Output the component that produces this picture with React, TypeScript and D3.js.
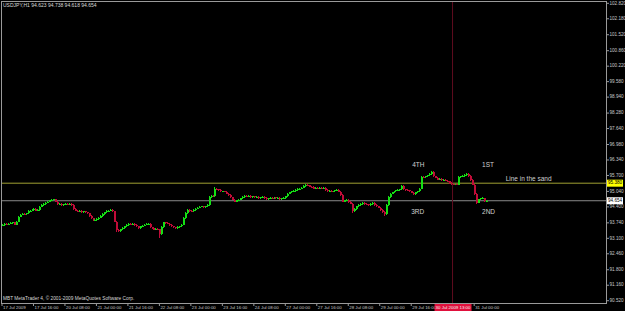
import React from 'react';
import * as d3 from 'd3';

const W = 625;
const H = 311;

// hourly closes, USDJPY H1, 17 Jul 2009 00:00 onwards
const closes: number[] = [
  93.65, 93.69, 93.67, 93.71, 93.73, 93.76, 93.67, 93.78, 94.00, 94.07,
  94.11, 94.09, 94.13, 94.23, 94.25, 94.29, 94.31, 94.25, 94.27, 94.40,
  94.48, 94.52, 94.58, 94.62, 94.67, 94.69, 94.71, 94.62, 94.50, 94.52,
  94.48, 94.50, 94.54, 94.52, 94.54, 94.48, 94.31, 94.25, 94.21, 94.23,
  94.19, 94.21, 94.17, 94.13, 94.02, 93.92, 93.84, 93.86, 93.90, 93.96,
  94.02, 94.11, 94.17, 94.23, 94.25, 94.27, 94.21, 93.78, 93.45, 93.40,
  93.47, 93.53, 93.59, 93.65, 93.69, 93.67, 93.69, 93.65, 93.59, 93.53,
  93.59, 93.63, 93.67, 93.69, 93.71, 93.55, 93.51, 93.45, 93.49, 93.47,
  93.28, 93.57, 93.76, 93.73, 93.71, 93.65, 93.59, 93.55, 93.51, 93.57,
  93.59, 93.67, 93.94, 94.15, 94.27, 94.23, 94.21, 94.27, 94.33, 94.36,
  94.40, 94.42, 94.38, 94.42, 94.48, 94.81, 94.85, 94.83, 95.14, 95.12,
  95.10, 95.04, 95.04, 95.02, 94.95, 94.89, 94.79, 94.69, 94.62, 94.67,
  94.69, 94.75, 94.81, 94.85, 94.83, 94.85, 94.81, 94.83, 94.79, 94.81,
  94.75, 94.79, 94.81, 94.77, 94.73, 94.75, 94.77, 94.75, 94.79, 94.75,
  94.77, 94.73, 94.75, 94.77, 94.83, 94.95, 95.00, 95.04, 95.06, 95.10,
  95.14, 95.16, 95.20, 95.26, 95.31, 95.29, 95.24, 95.22, 95.16, 95.18,
  95.16, 95.18, 95.16, 95.18, 95.10, 95.04, 95.06, 95.02, 95.04, 95.08,
  95.10, 95.02, 94.89, 94.62, 94.67, 94.69, 94.60, 94.54, 94.21, 94.31,
  94.42, 94.48, 94.52, 94.56, 94.52, 94.50, 94.48, 94.52, 94.56, 94.48,
  94.42, 94.36, 94.27, 94.19, 94.09, 94.48, 94.81, 94.95, 95.00, 95.04,
  95.08, 95.10, 95.12, 95.26, 95.12, 95.10, 95.08, 95.04, 94.98, 94.93,
  95.00, 95.04, 95.16, 95.64, 95.62, 95.66, 95.70, 95.76, 95.84, 95.66,
  95.60, 95.53, 95.55, 95.51, 95.53, 95.49, 95.45, 95.39, 95.33, 95.31,
  95.33, 95.31, 95.64, 95.66, 95.68, 95.72, 95.78, 95.68, 95.51, 95.31,
  94.93, 94.58, 94.71, 94.75, 94.77, 94.623, 94.654,
];
const firstOpen = 93.62;
const wickPad = 0.025;
const highSpikes: [number, number][] = [[108, 95.22], [218, 95.88], [236, 95.82], [245, 94.738]];
const lowSpikes: [number, number][] = [[58, 93.36], [80, 93.12], [178, 94.15], [194, 94.03], [241, 94.52], [245, 94.618]];

const priceTicks = [
  '102.820', '102.180', '101.520', '100.860', '100.220', '99.580', '98.940', '98.280', '97.640', '96.980',
  '96.340', '95.700', '95.040', '94.400', '93.740', '93.100', '92.460', '91.800', '91.160', '90.520',
];
const dateBars = [0, 16, 32, 48, 64, 80, 96, 112, 128, 144, 160, 176, 192, 208, 240];
const dateLabels = [
  '17 Jul 2009', '17 Jul 16:00', '20 Jul 08:00', '21 Jul 00:00', '21 Jul 16:00', '22 Jul 08:00',
  '23 Jul 00:00', '23 Jul 16:00', '24 Jul 08:00', '27 Jul 00:00', '27 Jul 16:00', '28 Jul 08:00',
  '29 Jul 00:00', '29 Jul 16:00', '31 Jul 00:00',
];
const sandLevel = 95.38;
const sandLabel = '95.380';
const bidLevel = 94.654;
const bidLabel = '94.654';
const crossBar = 229;
const crossLabel = '30 Jul 2009 13:00';
const header = 'USDJPY,H1  94.623 94.738 94.618 94.654';
const copyright = 'MBT MetaTrader 4, © 2001-2009 MetaQuotes Software Corp.';
const notes: { text: string; bar: number; price: number }[] = [
  { text: '4TH', bar: 208.5, price: 96.13 },
  { text: '1ST', bar: 244, price: 96.13 },
  { text: '3RD', bar: 208, price: 94.19 },
  { text: '2ND', bar: 244, price: 94.19 },
  { text: 'Line in the sand', bar: 256, price: 95.54 },
];

const FONT = 'Liberation Sans, Arial, sans-serif';
const L = 1, T = 1, R = 606, B = 303;

export default function App() {
  const x = d3.scaleLinear().domain([0, 307]).range([2, R]);
  const y = d3.scaleLinear().domain([90.52, 102.82]).range([300.7, 3.3]);
  const hiMap = new Map(highSpikes);
  const loMap = new Map(lowSpikes);

  const candles = closes.map((c, i) => {
    const o = i === 0 ? firstOpen : closes[i - 1];
    const hi = hiMap.get(i) ?? Math.max(o, c) + wickPad;
    const lo = loMap.get(i) ?? Math.min(o, c) - wickPad;
    return { i, o, c, hi, lo };
  });

  return (
    <svg width={W} height={H} style={{ position: 'fixed', left: 0, top: 0, background: '#000' }}
      fontFamily={FONT}>
      <rect x={0} y={0} width={W} height={H} fill="#000" />
      {/* horizontal lines */}
      <line x1={L} x2={R} y1={y(sandLevel)} y2={y(sandLevel)} stroke="#a0a032" strokeWidth={1} />
      <line x1={L} x2={R} y1={y(bidLevel)} y2={y(bidLevel)} stroke="#8a8a8a" strokeWidth={1} />
      {/* crosshair */}
      <line x1={x(crossBar)} x2={x(crossBar)} y1={T} y2={B} stroke="#5e0c1e" strokeWidth={1} />
      {/* candles */}
      <g shapeRendering="crispEdges">
        {candles.map((d) => {
          const up = d.c >= d.o;
          const col = up ? '#14e014' : '#c00c38';
          const xi = Math.round(x(d.i));
          const top = y(Math.max(d.o, d.c));
          const bot = y(Math.min(d.o, d.c));
          return (
            <g key={d.i}>
              <rect x={xi} y={y(d.hi)} width={1} height={Math.max(1, y(d.lo) - y(d.hi))} fill={col} />
              <rect x={xi} y={top} width={2} height={Math.max(1, bot - top)} fill={col} />
            </g>
          );
        })}
      </g>
      {/* annotations */}
      {notes.map((n) => (
        <text key={n.text} x={x(n.bar)} y={y(n.price)} fill="#d0d0d0" fontSize={6.5} dominantBaseline="middle">
          {n.text}
        </text>
      ))}
      {/* frame */}
      <rect x={L + 0.5} y={T + 0.5} width={R - L} height={B - T} fill="none" stroke="#9a9a9a" strokeWidth={1} />
      {/* header */}
      <text x={3} y={7} fill="#d8d8d8" fontSize={5}>{header}</text>
      <text x={3} y={300} fill="#d8d8d8" fontSize={4.8}>{copyright}</text>
      {/* price axis */}
      {priceTicks.map((t) => (
        <g key={t}>
          <line x1={R} x2={R + 3} y1={y(+t)} y2={y(+t)} stroke="#9a9a9a" />
          <text x={R + 3.5} y={y(+t)} fill="#c8c8c8" fontSize={4.6} dominantBaseline="middle">{t}</text>
        </g>
      ))}
      <rect x={R + 1} y={y(sandLevel) - 3.5} width={16} height={7} fill="#ffff00" />
      <text x={R + 2} y={y(sandLevel)} fill="#000" fontSize={4.6} dominantBaseline="middle">{sandLabel}</text>
      <rect x={R + 1} y={y(bidLevel) - 3.5} width={16} height={7} fill="#ffffff" />
      <text x={R + 2} y={y(bidLevel)} fill="#000" fontSize={4.6} dominantBaseline="middle">{bidLabel}</text>
      {/* time axis */}
      {dateLabels.map((lab, k) => (
        <g key={lab}>
          <line x1={x(dateBars[k])} x2={x(dateBars[k])} y1={B} y2={B + 3} stroke="#9a9a9a" />
          <text x={x(dateBars[k]) + 1} y={309} fill="#c8c8c8" fontSize={4.4}>{lab}</text>
        </g>
      ))}
      <rect x={x(crossBar) - 18} y={B + 1} width={37} height={7} fill="#e0103c" />
      <text x={x(crossBar) + 0.5} y={309} fill="#f0f0f0" fontSize={4.4} textAnchor="middle">{crossLabel}</text>
    </svg>
  );
}
